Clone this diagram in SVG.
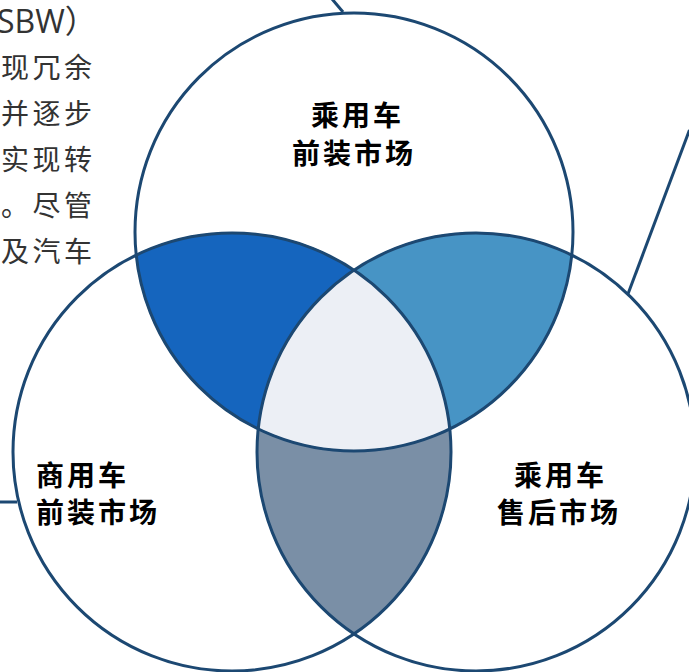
<svg xmlns="http://www.w3.org/2000/svg" width="689" height="672" viewBox="0 0 689 672">
<style>
.para{font-family:"Noto Sans CJK SC","Noto Sans",sans-serif;font-size:28px;fill:#333;letter-spacing:3.5px}
.lat{font-family:"Open Sans","Noto Sans","Noto Sans CJK SC",sans-serif;font-size:32px;fill:#333}
.lbl{font-family:"Noto Sans CJK SC",sans-serif;font-size:28px;font-weight:bold;fill:#000;letter-spacing:3px}
.circ{fill:none;stroke:#1C4872;stroke-width:3}
.reg{stroke:#1C4872;stroke-width:1.5}
.ln{stroke:#1C4872;stroke-width:3;fill:none}
</style>
<rect width="689" height="672" fill="#fff"/>
<g id="paragraph">
<text class="lat" x="-3" y="33">SBW）</text>
<text class="para" x="1" y="78">现冗余</text>
<text class="para" x="1" y="124">并逐步</text>
<text class="para" x="1" y="170">实现转</text>
<text class="para" x="1" y="216">。尽管</text>
<text class="para" x="1" y="262">及汽车</text>
</g>
<g id="connectors">
<line class="ln" x1="332" y1="-1" x2="343" y2="12"/>
<line class="ln" x1="689.5" y1="130" x2="628" y2="294"/>
<line class="ln" x1="0" y1="502" x2="17" y2="502"/>
</g>
<g id="regions">
<path id="region-top-left" class="reg" fill="#1565BE" d="M 136.21 255.05 A 219 219 0 0 1 354 270.13 A 219 219 0 0 0 258.21 428.95 A 219 219 0 0 1 136.21 255.05 Z"/>
<path id="region-top-right" class="reg" fill="#4794C5" d="M 571.79 255.05 A 219 219 0 0 0 354 270.13 A 219 219 0 0 1 449.79 428.95 A 219 219 0 0 0 571.79 255.05 Z"/>
<path id="region-bottom" class="reg" fill="#7A8FA6" d="M 258.21 428.95 A 219 219 0 0 0 449.79 428.95 A 219 219 0 0 1 354 633.87 A 219 219 0 0 1 258.21 428.95 Z"/>
<path id="region-center" class="reg" fill="#ECEFF5" d="M 354 270.13 A 219 219 0 0 1 449.79 428.95 A 219 219 0 0 1 258.21 428.95 A 219 219 0 0 1 354 270.13 Z"/>
</g>
<g id="node-top">
<circle class="circ" cx="354" cy="232" r="219"/>
<text class="lbl" x="311" y="126">乘用车</text>
<text class="lbl" x="292" y="164">前装市场</text>
</g>
<g id="node-left">
<circle class="circ" cx="232" cy="452" r="219"/>
<text class="lbl" x="36" y="486">商用车</text>
<text class="lbl" x="36" y="523">前装市场</text>
</g>
<g id="node-right">
<circle class="circ" cx="476" cy="452" r="219"/>
<text class="lbl" x="514" y="486">乘用车</text>
<text class="lbl" x="497" y="523">售后市场</text>
</g>
</svg>
